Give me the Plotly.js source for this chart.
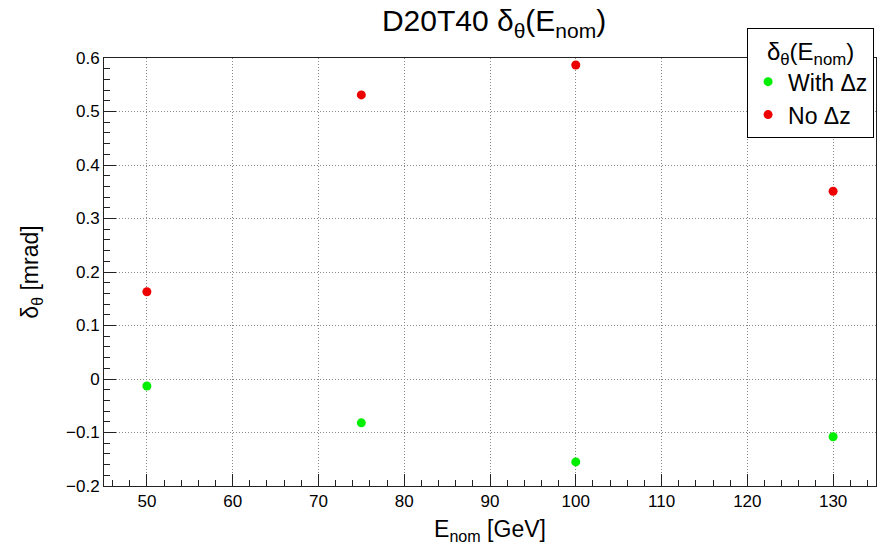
<!DOCTYPE html>
<html>
<head>
<meta charset="utf-8">
<script src="https://cdn.plot.ly/plotly-3.0.1.min.js"></script>
<style>html,body{margin:0;padding:0;background:#fff;}#chart{width:887px;height:548px;}</style>
</head>
<body>
<div id="chart"></div>
<script>
const energies = [50, 75, 100, 130];
const withDz = [-0.013, -0.082, -0.155, -0.108];
const noDz = [0.163, 0.531, 0.587, 0.351];
const seriesNames = ["With Δz", "No Δz"];
const xTicks = [50, 60, 70, 80, 90, 100, 110, 120, 130];
const yTicks = [-0.2, -0.1, 0, 0.1, 0.2, 0.3, 0.4, 0.5, 0.6];

const font = "Liberation Sans, Arial, Helvetica, sans-serif";

const traces = [
  {x: energies, y: withDz, name: seriesNames[0], type: "scatter", mode: "markers",
   marker: {color: "#00ee00", size: 9}},
  {x: energies, y: noDz, name: seriesNames[1], type: "scatter", mode: "markers",
   marker: {color: "#ee0000", size: 9}}
];

const axisCommon = {
  showline: true, linecolor: "#222", linewidth: 1, mirror: true,
  ticks: "inside", ticklen: 12, tickcolor: "#222", tickwidth: 1,
  showgrid: true, gridcolor: "#888", griddash: "1px,2px", gridwidth: 1,
  zeroline: false,
  tickfont: {family: font, size: 17, color: "#000"},
  minor: {ticks: "inside", ticklen: 6, tickcolor: "#222", showgrid: false}
};

const layout = {
  width: 887, height: 548,
  margin: {l: 104, r: 11, t: 58, b: 62},
  paper_bgcolor: "#fff", plot_bgcolor: "#fff",
  font: {family: font, color: "#000"},
  title: {text: "D20T40 δ<sub>θ</sub>(E<sub>nom</sub>)", x: 0.557, xanchor: "center", y: 0.962, yanchor: "middle",
          font: {family: font, size: 30, color: "#000"}},
  xaxis: Object.assign({}, axisCommon, {
    range: [45, 135], tickvals: xTicks, ticktext: xTicks.map(String),
    minor: Object.assign({}, axisCommon.minor, {dtick: 2, tick0: 0}),
    title: {text: "E<sub>nom</sub> [GeV]", font: {family: font, size: 23, color: "#000"}, standoff: 10}
  }),
  yaxis: Object.assign({}, axisCommon, {
    range: [-0.2, 0.6], tickvals: yTicks, ticktext: yTicks.map(v => v === 0 ? "0" : (v < 0 ? "\u2212" + Math.abs(v).toFixed(1) : v.toFixed(1))),
    minor: Object.assign({}, axisCommon.minor, {dtick: 0.02, tick0: 0}),
    title: {text: "δ<sub>θ</sub> [mrad]", font: {family: font, size: 23, color: "#000"}, standoff: 20}
  }),
  showlegend: true,
  legend: {
    x: 0.833, xanchor: "left", y: 1.07, yanchor: "top",
    bgcolor: "#fff", bordercolor: "#000", borderwidth: 1,
    font: {family: font, size: 23, color: "#000"},
    title: {text: "δ<sub>θ</sub>(E<sub>nom</sub>)", side: "top center", font: {family: font, size: 24, color: "#000"}},
    itemwidth: 30, tracegroupgap: 0
  }
};

Plotly.newPlot("chart", traces, layout, {displayModeBar: false, staticPlot: true});
</script>
</body>
</html>
